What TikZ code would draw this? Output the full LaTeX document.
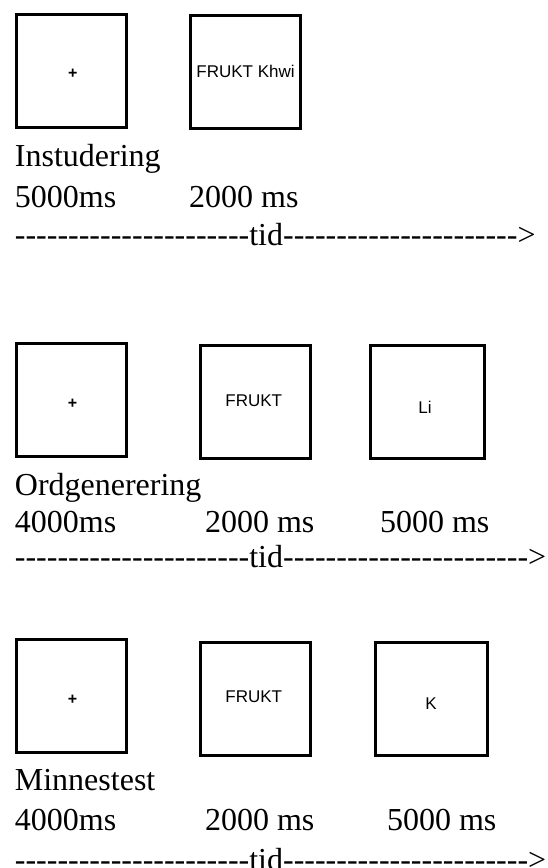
\documentclass[tikz,border=0pt]{standalone}
\usepackage{fontspec}
\newfontfamily\timesfont{Liberation Serif}
\newfontfamily\screenfont{Liberation Sans}
\tikzset{
  screen/.style={draw, line width=3pt, minimum width=110pt, minimum height=113pt, inner sep=0pt},
  stim/.style={inner sep=0pt, font=\screenfont\fontsize{17}{17}\selectfont},
  fix/.style={inner sep=0pt, font=\screenfont\bfseries\fontsize{16}{16}\selectfont},
  caption/.style={anchor=base west, inner sep=0pt, font=\timesfont\fontsize{32}{38}\selectfont}
}
\begin{document}
\begin{tikzpicture}[x=1pt, y=-1pt]

  % Fix the page to the size of the reference
  \useasboundingbox (0,0) rectangle (548,868);

  % Instudering: the two screens
  \node[screen] (insA) at (71.4,70.7) {};
  \node[screen] (insB) at (245,72) {};
  \node[fix] (insFix) at (72.8,74) {+};
  \node[stim] (insWord) at (245.5,71.7) {FRUKT Khwi};

  % Instudering: texts and time line
  \node[caption] (insName) at (14.7,166) {Instudering};
  \node[caption] (insTa) at (14.7,207) {5000ms};
  \node[caption] (insTb) at (189,207) {2000 ms};
  \node[caption] (insTid) at (14.7,245) {----------------------tid---------------------->};

  % Ordgenerering: the three screens
  \node[screen] (ordA) at (71.4,400) {};
  \node[screen] (ordB) at (255.7,401.7) {};
  \node[screen, minimum width=114pt] (ordC) at (427,401.7) {};
  \node[fix] (ordFix) at (72.5,404) {+};
  \node[stim] (ordWord) at (253.8,400.7) {FRUKT};
  \node[stim] (ordCue) at (425,407.3) {Li};

  % Ordgenerering: texts and time line
  \node[caption] (ordName) at (14.7,495) {Ordgenerering};
  \node[caption] (ordTa) at (14.7,532) {4000ms};
  \node[caption] (ordTb) at (204.8,532) {2000 ms};
  \node[caption] (ordTc) at (379.8,532) {5000 ms};
  \node[caption] (ordTid) at (14.7,567) {----------------------tid----------------------->};

  % Minnestest: the three screens
  \node[screen] (minA) at (71.4,696.2) {};
  \node[screen] (minB) at (255.7,698.7) {};
  \node[screen, minimum width=112pt] (minC) at (431.4,698.7) {};
  \node[fix] (minFix) at (72.5,700) {+};
  \node[stim] (minWord) at (253.8,696.7) {FRUKT};
  \node[stim] (minCue) at (431,703.3) {K};

  % Minnestest: texts and time line
  \node[caption] (minName) at (14.7,790) {Minnestest};
  \node[caption] (minTa) at (14.7,830) {4000ms};
  \node[caption] (minTb) at (204.8,830) {2000 ms};
  \node[caption] (minTc) at (386.8,830) {5000 ms};
  \node[caption] (minTid) at (14.7,870) {----------------------tid----------------------->};

\end{tikzpicture}
\end{document}
